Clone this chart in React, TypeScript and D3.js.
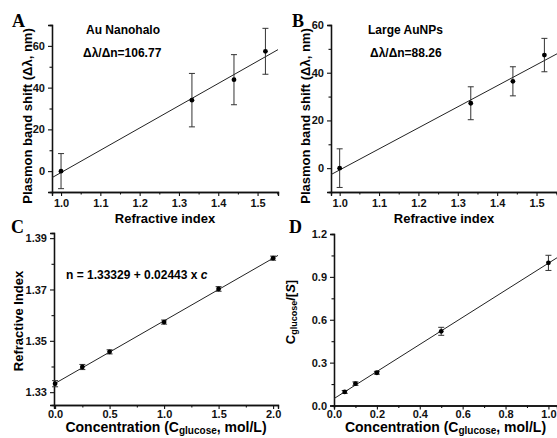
import { useEffect, useRef } from "react";
import * as d3 from "d3";

// Panel A - Au nanohalo
const riA = [1.0, 1.333, 1.44, 1.52];
const shiftA = [0, 34, 43.8, 57.4];
const errA = [8.4, 12.8, 12, 11];

// Panel B - large AuNPs
const riB = [1.0, 1.333, 1.44, 1.52];
const shiftB = [0, 27.2, 36.4, 47.4];
const errB = [8.1, 6.9, 6.1, 7];

// Panel C - refractive index vs glucose
const concC = [0, 0.25, 0.5, 1.0, 1.5, 2.0];
const riC = [1.3333, 1.3398, 1.3457, 1.3573, 1.3702, 1.3822];
const errC = [0.0012, 0.001, 0.0008, 0.0008, 0.0009, 0.0008];

// Panel D - Cglucose/[S]
const concD = [0.05, 0.1, 0.2, 0.5, 1.0];
const ratioD = [0.095, 0.153, 0.229, 0.519, 0.998];
const errD = [0.01, 0.012, 0.01, 0.028, 0.053];

const W = 557;
const H = 438;
const font = "Liberation Sans, Arial, sans-serif";

// ordinary least squares
const fit = (xs, ys) => {
    const mx = d3.mean(xs), my = d3.mean(ys);
    const sxy = d3.sum(xs, (x, i) => (x - mx) * (ys[i] - my));
    const sxx = d3.sum(xs, x => (x - mx) ** 2);
    const b = sxy / sxx;
    return { a: my - b * mx, b };
};

const drawPanel = (svg, p) => {
    const g = svg.append("g");
    const x = d3.scaleLinear().domain(p.xDomain).range(p.xRange);
    const y = d3.scaleLinear().domain(p.yDomain).range(p.yRange);

    // minor ticks
    const xAxisMinor = d3.axisBottom(x).tickValues(p.xMinor).tickSize(2.5).tickFormat(() => "");
    const yAxisMinor = d3.axisLeft(y).tickValues(p.yMinor).tickSize(2.5).tickFormat(() => "");
    g.append("g").attr("transform", `translate(0,${p.yRange[0]})`).call(xAxisMinor);
    g.append("g").attr("transform", `translate(${p.xRange[0]},0)`).call(yAxisMinor);

    // major ticks + labels
    g.append("g")
        .attr("transform", `translate(0,${p.yRange[0]})`)
        .call(d3.axisBottom(x).tickValues(p.xTicks).tickSize(4).tickPadding(p.xPad).tickFormat(d3.format(p.xFmt)));
    g.append("g")
        .attr("transform", `translate(${p.xRange[0]},0)`)
        .call(d3.axisLeft(y).tickValues(p.yTicks).tickSize(4).tickPadding(3).tickFormat(d3.format(p.yFmt)));

    g.selectAll(".domain").attr("stroke", "#111").attr("stroke-width", 1.3);
    g.selectAll(".tick line").attr("stroke", "#111").attr("stroke-width", 1.1);
    g.selectAll(".tick text")
        .attr("font-family", font)
        .attr("font-weight", "bold")
        .attr("font-size", 11)
        .attr("fill", "#111");

    // fit line across the x axis
    const { a, b } = fit(p.xs, p.ys);
    g.append("line")
        .attr("x1", x(p.xDomain[0])).attr("y1", y(a + b * p.xDomain[0]))
        .attr("x2", x(p.xDomain[1])).attr("y2", y(a + b * p.xDomain[1]))
        .attr("stroke", "#222")
        .attr("stroke-width", 1);

    // error bars
    const pts = p.xs.map((v, i) => ({ x: v, y: p.ys[i], e: p.errs[i] }));
    const eb = g.append("g").attr("stroke", "#333").attr("stroke-width", 1);
    pts.forEach(d => {
        eb.append("line").attr("x1", x(d.x)).attr("x2", x(d.x)).attr("y1", y(d.y - d.e)).attr("y2", y(d.y + d.e));
        eb.append("line").attr("x1", x(d.x) - 3).attr("x2", x(d.x) + 3).attr("y1", y(d.y - d.e)).attr("y2", y(d.y - d.e));
        eb.append("line").attr("x1", x(d.x) - 3).attr("x2", x(d.x) + 3).attr("y1", y(d.y + d.e)).attr("y2", y(d.y + d.e));
    });

    g.selectAll("circle.pt")
        .data(pts)
        .join("circle")
        .attr("cx", d => x(d.x))
        .attr("cy", d => y(d.y))
        .attr("r", 2.4)
        .attr("fill", "#000");

    // panel letter
    g.append("text")
        .attr("x", p.letterPos[0]).attr("y", p.letterPos[1])
        .attr("font-family", "Liberation Serif, Times New Roman, serif")
        .attr("font-weight", "bold")
        .attr("font-size", 18)
        .text(p.letter);

    // x title
    g.append("text")
        .attr("x", (p.xRange[0] + p.xRange[1]) / 2)
        .attr("y", p.xTitleY)
        .attr("text-anchor", "middle")
        .attr("font-family", font)
        .attr("font-weight", "bold")
        .attr("font-size", p.xTitleSize)
        .call(p.xTitle);

    // y title
    g.append("text")
        .attr("transform", `translate(${p.yTitlePos[0]},${p.yTitlePos[1]}) rotate(-90)`)
        .attr("text-anchor", "middle")
        .attr("font-family", font)
        .attr("font-weight", "bold")
        .attr("font-size", 13)
        .call(p.yTitle);

    // annotations
    p.notes.forEach(n => {
        g.append("text")
            .attr("x", n.x).attr("y", n.y)
            .attr("font-family", font)
            .attr("font-weight", "bold")
            .attr("font-size", 12)
            .call(n.text);
    });
};

const plain = s => t => t.text(s);
const concTitle = t => {
    t.append("tspan").text("Concentration (C");
    t.append("tspan").attr("font-size", 10).attr("dy", 2).text("glucose");
    t.append("tspan").attr("dy", -2).text(", mol/L)");
};

export default function App() {
    const ref = useRef(null);

    useEffect(() => {
        const svg = d3.select(ref.current);
        svg.selectAll("*").remove();
        svg.append("rect").attr("width", W).attr("height", H).attr("fill", "#fff");

        drawPanel(svg, {
            xs: riA, ys: shiftA, errs: errA,
            xDomain: [0.977, 1.552], xRange: [52, 278],
            yDomain: [-10, 70], yRange: [192, 25],
            xTicks: [1.0, 1.1, 1.2, 1.3, 1.4, 1.5], xMinor: d3.range(1.05, 1.56, 0.1),
            yTicks: [0, 20, 40, 60], yMinor: [-10, 10, 30, 50, 70],
            xFmt: ".1f", yFmt: "d", xPad: 3,
            letter: "A", letterPos: [12, 27],
            xTitle: plain("Refractive index"), xTitleY: 223, xTitleSize: 13,
            yTitle: plain("Plasmon band shift (\u0394\u03bb, nm)"), yTitlePos: [32, 116],
            notes: [
                { x: 86, y: 34, text: plain("Au Nanohalo") },
                { x: 83, y: 57, text: plain("\u0394\u03bb/\u0394n=106.77") },
            ],
        });

        drawPanel(svg, {
            xs: riB, ys: shiftB, errs: errB,
            xDomain: [0.978, 1.552], xRange: [331, 557],
            yDomain: [-10, 60], yRange: [192, 25],
            xTicks: [1.0, 1.1, 1.2, 1.3, 1.4, 1.5], xMinor: d3.range(1.05, 1.56, 0.1),
            yTicks: [0, 20, 40, 60], yMinor: [-10, 10, 30, 50],
            xFmt: ".1f", yFmt: "d", xPad: 3,
            letter: "B", letterPos: [292, 27],
            xTitle: plain("Refractive index"), xTitleY: 223, xTitleSize: 13,
            yTitle: plain("Plasmon band shift (\u0394\u03bb, nm)"), yTitlePos: [310, 116],
            notes: [
                { x: 368, y: 34, text: plain("Large AuNPs") },
                { x: 370, y: 57, text: plain("\u0394\u03bb/\u0394n=88.26") },
            ],
        });

        drawPanel(svg, {
            xs: concC, ys: riC, errs: errC,
            xDomain: [-0.01, 2.045], xRange: [54, 278],
            yDomain: [1.325, 1.392], yRange: [405, 233],
            xTicks: [0, 0.5, 1.0, 1.5, 2.0], xMinor: [0.25, 0.75, 1.25, 1.75],
            yTicks: [1.33, 1.35, 1.37, 1.39], yMinor: [1.34, 1.36, 1.38],
            xFmt: ".1f", yFmt: ".2f", xPad: 1,
            letter: "C", letterPos: [11, 233],
            xTitle: concTitle, xTitleY: 432, xTitleSize: 14,
            yTitle: plain("Refractive Index"), yTitlePos: [23, 321],
            notes: [
                {
                    x: 66, y: 279,
                    text: t => {
                        t.append("tspan").text("n = 1.33329 + 0.02443 x ");
                        t.append("tspan").attr("font-style", "italic").text("c");
                    },
                },
            ],
        });

        drawPanel(svg, {
            xs: concD, ys: ratioD, errs: errD,
            xDomain: [0, 1.04], xRange: [334, 557],
            yDomain: [0, 1.2], yRange: [405.5, 234],
            xTicks: [0, 0.2, 0.4, 0.6, 0.8, 1.0], xMinor: [0.1, 0.3, 0.5, 0.7, 0.9],
            yTicks: [0, 0.3, 0.6, 0.9, 1.2], yMinor: [0.15, 0.45, 0.75, 1.05],
            xFmt: ".1f", yFmt: ".1f", xPad: 1,
            letter: "D", letterPos: [289, 233],
            xTitle: concTitle, xTitleY: 432, xTitleSize: 14,
            yTitle: t => {
                t.append("tspan").text("C");
                t.append("tspan").attr("font-size", 9).attr("dy", 2).text("glucose");
                t.append("tspan").attr("dy", -2).text("/[");
                t.append("tspan").attr("font-style", "italic").text("S");
                t.append("tspan").text("]");
            },
            yTitlePos: [295, 312],
            notes: [],
        });
    }, []);

    return (
        <svg
            ref={ref}
            width={W}
            height={H}
            style={{ position: "absolute", left: 0, top: 0 }}
        />
    );
}
